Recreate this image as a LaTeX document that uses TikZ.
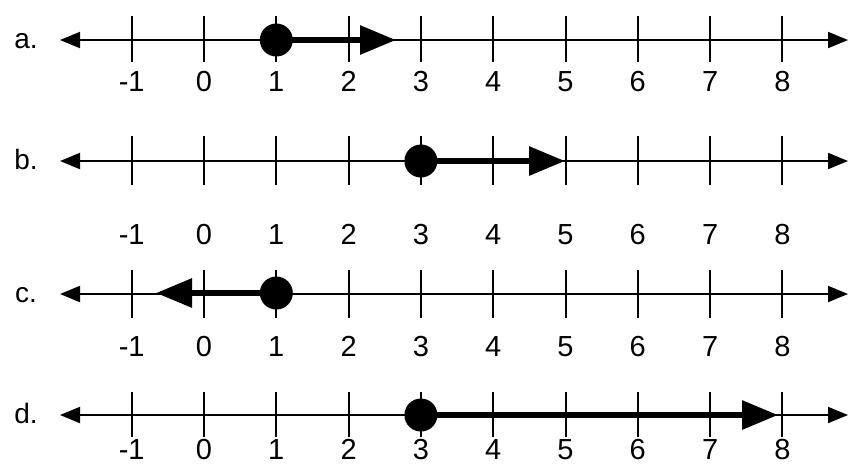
\documentclass[tikz,border=0pt]{standalone}
\usepackage{fontspec}
\setmainfont{Liberation Sans}
\usetikzlibrary{arrows.meta}
\begin{document}
\begin{tikzpicture}[x=0.5pt,y=-0.5pt,
  axisline/.style={line width=1pt,{Triangle[length=10pt,width=8pt]}-{Triangle[length=10pt,width=8pt]}},
  tickline/.style={line width=1pt},
  numlab/.style={font=\fontsize{14.5}{16}\selectfont,inner sep=0pt,anchor=base},
  partlab/.style={font=\fontsize{14}{16}\selectfont,inner sep=0pt,anchor=base},
  dotnode/.style={circle,fill=black,inner sep=0pt,minimum size=16.5pt},
  sol/.style={line width=3pt,-{Triangle[length=18pt,width=14pt]}}]
\useasboundingbox (0,0) rectangle (850,463);
% rows: name / line y / tick top / tick bottom / label baseline y
\foreach \r/\ly/\tt/\tb/\lab/\txt in {a/40/16/62/91/a., b/161/136/185/244/b., c/294/270/318/356/c., d/415/392/437/459/d.}{
  \node[partlab] (\r-name) at (26,\ly+8) {\txt};
  \coordinate (\r-left) at (60,\ly);
  \coordinate (\r-right) at (848,\ly);
  \draw[axisline] (\r-left) -- (\r-right);
  \foreach \n [evaluate=\n as \xx using 204+72.3*\n] in {-1,0,...,8}{
    \coordinate (\r-tt\n) at (\xx,\tt);
    \coordinate (\r-tb\n) at (\xx,\tb);
    \draw[tickline] (\r-tt\n) -- (\r-tb\n);
    \node[numlab] (\r-num\n) at (\xx,\lab) {\n};
  }
}
% a: x >= 1 (segment to about 2.6)
\node[dotnode] (a-dot) at (276.3,40) {};
\coordinate (a-tip) at (396,40);
\draw[sol] (a-dot.center) -- (a-tip);
% b: 3 to 5
\node[dotnode] (b-dot) at (420.9,161) {};
\coordinate (b-tip) at (565,161);
\draw[sol] (b-dot.center) -- (b-tip);
% c: x <= 1
\node[dotnode] (c-dot) at (276.3,293) {};
\coordinate (c-tip) at (156,293);
\draw[sol] (c-dot.center) -- (c-tip);
% d: 3 to about 8
\node[dotnode] (d-dot) at (420.9,415) {};
\coordinate (d-tip) at (778,415);
\draw[sol] (d-dot.center) -- (d-tip);
\end{tikzpicture}
\end{document}
